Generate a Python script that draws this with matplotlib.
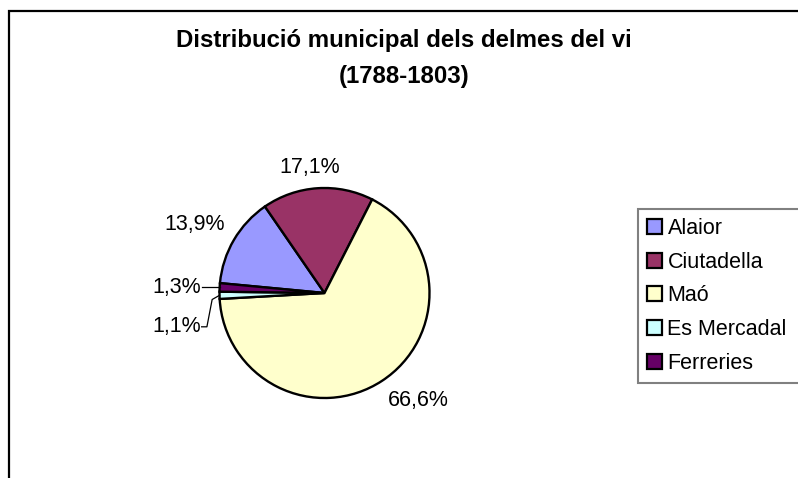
import numpy as np
import matplotlib
matplotlib.use("Agg")
import matplotlib.pyplot as plt
from matplotlib.patches import Patch, Rectangle

plt.rcParams['font.family'] = ['Liberation Sans', 'DejaVu Sans']

# ---- data ----
categories = ["Alaior", "Ciutadella", "Maó", "Es Mercadal", "Ferreries"]
shares = [13.9, 17.1, 66.6, 1.1, 1.3]
colors = ["#9999FF", "#993366", "#FFFFCC", "#CCFFFF", "#660066"]
title_lines = ["Distribució municipal dels delmes del vi", "(1788-1803)"]

W, H = 798, 478
fig = plt.figure(figsize=(W / 100, H / 100), dpi=100)

# chart border (only left/top visible in reference)
fig.patches.append(Rectangle((8.5 / W, -0.2), 1.5, 1.2 - 10.5 / H,
                             transform=fig.transFigure, fill=False,
                             edgecolor="#000000", linewidth=1.6, zorder=0))

# pie axes: centre (324.5, 293) px, radius 105 px
cx, cy, R = 324.5, 293.0, 105.0
span = 1.6
ax = fig.add_axes([(cx - span * R) / W, (H - cy - span * R) / H,
                   2 * span * R / W, 2 * span * R / H])
start = 174.6
wedges, _ = ax.pie(shares, colors=colors, startangle=start, counterclock=False,
                   radius=1.0,
                   wedgeprops=dict(edgecolor="black", linewidth=1.7))
ax.set_xlim(-span, span)
ax.set_ylim(-span, span)
ax.axis("off")

fs_lab = 15.5
for w, val in zip(wedges, shares):
    mid = np.deg2rad((w.theta1 + w.theta2) / 2)
    c, s = np.cos(mid), np.sin(mid)
    txt = f"{val:.1f}%".replace(".", ",")
    if val < 5:
        ex, ey = c, s
        ty = ey if s > 0 else ey - 0.3
        tx = -1.18
        ax.text(tx, ty, txt, ha="right", va="center", fontsize=fs_lab)
        if s > 0:
            ax.plot([tx + 0.01, ex], [ty, ey], color="black", lw=0.9)
        else:
            ax.plot([tx + 0.01, -1.12, -1.07, ex], [ty, ty, ey - 0.04, ey],
                    color="black", lw=0.9)
        continue
    d = 1.1
    px, py = d * c, d * s
    ha = "left" if c > 0.3 else ("right" if c < -0.3 else "center")
    va = "bottom" if s > 0.3 else ("top" if s < -0.3 else "center")
    if ha == "center":
        px -= 0.07
    ax.text(px, py, txt, ha=ha, va=va, fontsize=fs_lab)

# title
fig.text(404 / W, 1 - 41 / H, title_lines[0], ha="center", va="center",
         fontsize=17.3, fontweight="bold")
fig.text(404 / W, 1 - 76 / H, title_lines[1], ha="center", va="center",
         fontsize=17.3, fontweight="bold")

# legend
handles = [Patch(facecolor=col, edgecolor="black", linewidth=1.6) for col in colors]
leg = fig.legend(handles, categories, loc="upper left",
                 bbox_to_anchor=(638 / W, 1 - 209 / H, 200 / W, 0.0),
                 mode="expand", borderaxespad=0, fontsize=fs_lab,
                 handlelength=0.7, handleheight=0.7, handletextpad=0.25,
                 labelspacing=0.59, borderpad=0.42, fancybox=False,
                 framealpha=1)
leg.get_frame().set_edgecolor("#808080")
leg.get_frame().set_linewidth(1.5)

fig.savefig("out.png", dpi=100)
